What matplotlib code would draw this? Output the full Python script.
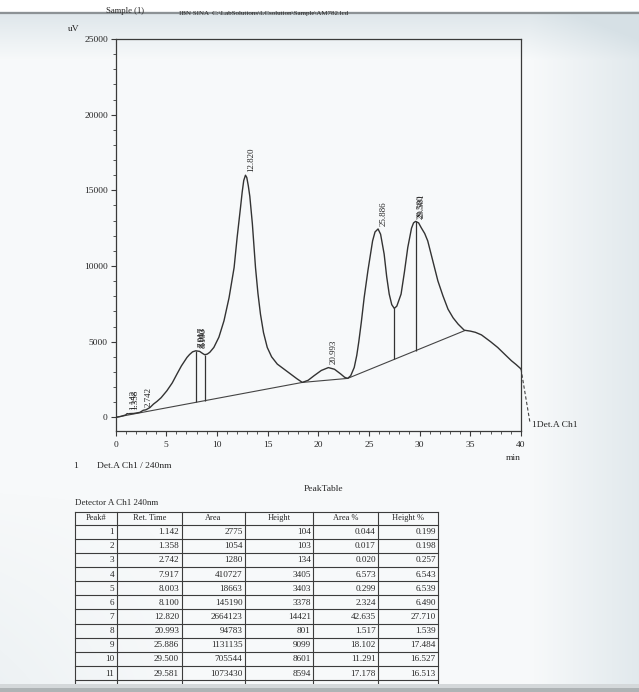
import numpy as np
import matplotlib
matplotlib.use("Agg")
import matplotlib.pyplot as plt
from matplotlib.patches import Rectangle

# ---------------- data ----------------
trace_t = [0, 0.5, 1.0, 1.15, 1.3, 1.4, 1.8, 2.4, 2.74, 3.0, 3.4, 3.75, 4.1, 4.5, 5.07,
           5.6, 6.06, 6.5, 7.05, 7.3, 7.6, 7.92, 8.3, 8.6, 8.8, 9.05, 9.3, 9.7, 10.2,
           10.7, 11.2, 11.7, 12.0, 12.33, 12.5, 12.65, 12.82, 12.95, 13.1, 13.25, 13.5,
           13.81, 14.05, 14.3, 14.6, 14.97, 15.4, 15.96, 16.6, 17.28, 17.9, 18.43, 19.0,
           19.58, 20.3, 21.0, 21.6, 22.23, 22.6, 22.9, 23.2, 23.55, 23.8, 24.0, 24.25,
           24.53, 24.9, 25.36, 25.6, 25.9, 26.15, 26.5, 26.75, 27.0, 27.25, 27.5, 27.75,
           28.17, 28.5, 28.83, 29.2, 29.4, 29.6, 29.9, 30.15, 30.5, 30.8, 31.3, 31.8,
           32.3, 32.8, 33.3, 33.8, 34.4, 35.0, 35.5, 36.1, 37.0, 37.7, 38.5, 39.06, 39.5,
           40.0]
trace_v = [0, 60, 160, 250, 230, 250, 260, 330, 470, 500, 650, 880, 1060, 1300, 1760,
           2280, 2860, 3400, 3960, 4150, 4330, 4400, 4360, 4220, 4140, 4180, 4300, 4620, 5300,
           6380, 7900, 9900, 11900, 13860, 14900, 15650, 16000, 15850, 15300, 14600, 12800,
           9900, 8200, 6820, 5600, 4620, 4000, 3520, 3200, 2860, 2550, 2310, 2450,
           2750, 3100, 3290, 3180, 2860, 2650, 2575, 2750, 3300, 4100, 5000, 6300,
           7920, 9700, 11660, 12250, 12450, 12100, 10790, 9300, 8145, 7450, 7200, 7350,
           8145, 9600, 11220, 12500, 12850, 12950, 12850, 12540, 12150, 11660, 10340, 9020,
           8030, 7150, 6580, 6160, 5760, 5700, 5620, 5450, 5000, 4620, 4100, 3740, 3500,
           3200]

baseline_t = [0, 18.43, 22.9, 34.4]
baseline_v = [0, 2310, 2575, 5720]

drop_t = [7.97, 8.8, 27.5, 29.62]

peak_no = [1, 2, 3, 4, 5, 6, 7, 8, 9, 10, 11]
ret_time = [1.142, 1.358, 2.742, 7.917, 8.003, 8.100, 12.820, 20.993, 25.886, 29.500, 29.581]
area = [2775, 1054, 1280, 410727, 18663, 145190, 2664123, 94783, 1131135, 705544, 1073430]
height = [104, 103, 134, 3405, 3403, 3378, 14421, 801, 9099, 8601, 8594]
area_pct = [0.044, 0.017, 0.020, 6.573, 0.299, 2.324, 42.635, 1.517, 18.102, 11.291, 17.178]
height_pct = [0.199, 0.198, 0.257, 6.543, 6.539, 6.490, 27.710, 1.539, 17.484, 16.527, 16.513]
headers = ["Peak#", "Ret. Time", "Area", "Height", "Area %", "Height %"]

x_ticks = [0, 5, 10, 15, 20, 25, 30, 35, 40]
y_ticks = [0, 5000, 10000, 15000, 20000, 25000]

# ---------------- figure ----------------
W, H = 639, 692
fig = plt.figure(figsize=(W / 100, H / 100), dpi=100)
SERIF = ["Liberation Serif", "DejaVu Serif"]
plt.rcParams["font.family"] = SERIF
TXT = "#262626"

# overlay axes in pixel coordinates (background, texts, table)
ov = fig.add_axes([0, 0, 1, 1], zorder=0)
ov.set_xlim(0, W)
ov.set_ylim(H, 0)
ov.axis("off")

# background gradient
yy, xx = np.mgrid[0:H, 0:W]
tint = 0.18 + 0.55 * np.clip((xx - 530) / 110.0, 0, 1)
tint = tint + 0.6 * np.clip((60 - yy) / 46.0, 0, 1) * (yy > 13)
tint = tint + 0.25 * np.clip((yy - 480) / 200.0, 0, 1) * np.clip((200 - xx) / 200.0, 0, 1)
tint = np.where(yy < 11, 0.0, tint)
tint = np.clip(tint, 0, 1)
c_hi = np.array([1.0, 1.0, 1.0])
c_lo = np.array([0.84, 0.88, 0.90])
img = c_hi[None, None, :] * (1 - tint[..., None]) + c_lo[None, None, :] * tint[..., None]
ov.imshow(img, extent=(0, W, H, 0), aspect="auto", zorder=0, interpolation="bilinear")

# top band line
ov.plot([0, W], [12.5, 12.5], color="#8c9295", lw=1.6, zorder=1)
ov.text(125, 11, "Sample (1)", fontsize=6.2, ha="center", va="center", color=TXT, zorder=2)
ov.text(264, 13, "IBN SINA  C:\\LabSolutions\\LCsolution\\Sample\\AM782.lcd", fontsize=5.0,
        ha="center", va="center", color=TXT, zorder=2)

# ---------------- chromatogram axes ----------------
ax_l, ax_r, ax_t, ax_b = 115.5, 521.0, 39.0, 431.0
ax = fig.add_axes([ax_l / W, 1 - ax_b / H, (ax_r - ax_l) / W, (ax_b - ax_t) / H], zorder=2)
ax.patch.set_alpha(0)
ax.set_xlim(0, 40)
ax.set_ylim(-900, 25000)
for s in ax.spines.values():
    s.set_color("#3a3a3a")
    s.set_linewidth(0.9)

ax.set_xticks(x_ticks)
ax.set_xticks(np.arange(0, 41, 1), minor=True)
ax.set_yticks(y_ticks)
ax.set_yticks(np.arange(0, 25001, 1000), minor=True)
ax.tick_params(which="major", direction="out", length=3.5, width=0.8, colors="#3a3a3a",
               labelsize=6.8, labelcolor=TXT, pad=2)
ax.tick_params(which="minor", direction="out", length=2, width=0.6, colors="#3a3a3a")
ax.tick_params(axis="x", pad=4)
for lab in ax.get_xticklabels() + ax.get_yticklabels():
    lab.set_family(SERIF)

ax.plot(trace_t, trace_v, color="#333333", lw=1.0, zorder=3)
ax.plot(baseline_t, baseline_v, color="#444444", lw=0.8, zorder=2)

tops = np.interp(drop_t, trace_t, trace_v)
bots = np.interp(drop_t, baseline_t, baseline_v)
ax.vlines(drop_t, bots, tops, color="#333333", lw=0.9, zorder=2)

for rt in ret_time:
    yv = np.interp(rt, trace_t, trace_v)
    ax.annotate(f"{rt:.3f}", xy=(rt, yv), xytext=(4.2, 2.5), textcoords="offset points",
                rotation=90, ha="center", va="bottom", fontsize=6.5, color=TXT, zorder=4)

# dashed end marker outside the axes
ax.plot([trace_t[-1], 40.9], [trace_v[-1], -400], ls=(0, (3, 2)), color="#444444",
        lw=0.8, clip_on=False)

# axis texts
ov.text(74, 29, "uV", fontsize=6.8, ha="center", va="center", color=TXT, zorder=3)
ov.text(521, 458, "min", fontsize=6.8, ha="right", va="center", color=TXT, zorder=3)
ov.text(532, 425, "1Det.A Ch1", fontsize=6.8, ha="left", va="center", color=TXT, zorder=3)
ov.text(76, 466, "1", fontsize=6.8, ha="center", va="center", color=TXT, zorder=3)
ov.text(97, 466, "Det.A Ch1 / 240nm", fontsize=6.8, ha="left", va="center", color=TXT, zorder=3)
ov.text(323, 489, "PeakTable", fontsize=6.8, ha="center", va="center", color=TXT, zorder=3)
ov.text(75, 503, "Detector A Ch1 240nm", fontsize=6.5, ha="left", va="center", color=TXT, zorder=3)

# ---------------- peak table ----------------
col_x = [75, 116.7, 181.7, 245, 313.3, 378.3, 438.3]
top_y = 512.0
head_h = 12.5
row_h = 14.15
n_rows = len(peak_no) + 1  # + partially hidden total row
row_y = [top_y, top_y + head_h] + [top_y + head_h + row_h * (i + 1) for i in range(n_rows)]
LC = "#3c3c3c"
for yv in row_y:
    ov.plot([col_x[0], col_x[-1]], [yv, yv], color=LC, lw=0.8, zorder=3)
for xv in col_x:
    ov.plot([xv, xv], [row_y[0], row_y[-1]], color=LC, lw=0.8, zorder=3)

for j, h in enumerate(headers):
    ov.text((col_x[j] + col_x[j + 1]) / 2, top_y + head_h / 2, h, fontsize=6.0,
            ha="center", va="center", color=TXT, zorder=4)

cols = [
    [str(v) for v in peak_no],
    [f"{v:.3f}" for v in ret_time],
    [str(v) for v in area],
    [str(v) for v in height],
    [f"{v:.3f}" for v in area_pct],
    [f"{v:.3f}" for v in height_pct],
]
totals = ["Total", "", str(sum(area)), str(sum(height)), "100.000", "100.000"]
for i in range(len(peak_no) + 1):
    yc = top_y + head_h + row_h * (i + 0.5)
    for j in range(6):
        txt = cols[j][i] if i < len(peak_no) else totals[j]
        if txt:
            ov.text(col_x[j + 1] - 2.5, yc + 0.5, txt, fontsize=6.6, ha="right",
                    va="center", color=TXT, zorder=4)

# bottom grey band
ov.add_patch(Rectangle((0, 684), W, 4, color="#d4d8da", zorder=6, lw=0))
ov.add_patch(Rectangle((0, 687.5), W, 5, color="#aeb3b5", zorder=7, lw=0))

fig.savefig("out.png", dpi=100)
